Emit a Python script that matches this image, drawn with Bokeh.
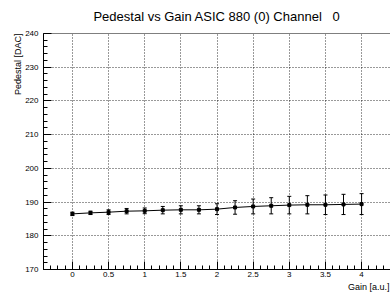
from bokeh.plotting import figure
from bokeh.models import (ColumnDataSource, SingleIntervalTicker, Range1d, Whisker,
                          TeeHead, Span, CustomJSTickFormatter, Title)
from bokeh.embed import file_html
from bokeh.resources import INLINE

gain = [0, 0.25, 0.5, 0.75, 1.0, 1.25, 1.5, 1.75, 2.0, 2.25, 2.5, 2.75, 3.0, 3.25, 3.5, 3.75, 4.0]
pedestal = [186.5, 186.8, 187.0, 187.3, 187.4, 187.6, 187.7, 187.7, 187.9, 188.4,
            188.7, 188.9, 189.1, 189.2, 189.2, 189.3, 189.4]
ped_err = [0.5, 0.5, 0.7, 0.8, 0.85, 1.1, 1.2, 1.2, 1.6, 2.0, 2.2, 2.4, 2.6, 2.7, 2.9, 3.0, 3.1]

title_text = "Pedestal vs Gain ASIC 880 (0) Channel\u00a0\u00a0\u00a00"
x_title = "Gain [a.u.]"
y_title = "Pedestal [DAC]"

FONT = "Liberation Sans"

src = ColumnDataSource(dict(
    x=gain, y=pedestal,
    lo=[v - e for v, e in zip(pedestal, ped_err)],
    hi=[v + e for v, e in zip(pedestal, ped_err)],
))

p = figure(width=390, height=295, output_backend="svg", toolbar_location=None,
           x_range=Range1d(-0.4, 4.4), y_range=Range1d(170, 240),
           min_border_left=43, min_border_right=0, min_border_top=33, min_border_bottom=26)
p.outline_line_color = None
p.background_fill_color = "white"
p.border_fill_color = "white"

p.title.text = title_text
p.title.align = "center"
p.title.vertical_align = "top"
p.title.text_font = FONT
p.title.text_font_size = "13px"
p.title.text_font_style = "normal"
p.title.text_color = "black"
p.title.standoff = 15
p.title.offset = 0

for ax, interval in ((p.xaxis[0], 0.5), (p.yaxis[0], 10)):
    ax.ticker = SingleIntervalTicker(interval=interval, num_minor_ticks=5)
    ax.major_tick_in = 8
    ax.major_tick_out = 0
    ax.minor_tick_in = 4
    ax.minor_tick_out = 0
    ax.axis_line_color = "black"
    ax.major_tick_line_color = "black"
    ax.minor_tick_line_color = "black"
    ax.major_label_text_font = FONT
    ax.major_label_text_font_size = "8px"
    ax.major_label_text_color = "black"
    ax.formatter = CustomJSTickFormatter(code="return tick.toString()")

p.xaxis[0].major_label_standoff = 2
p.yaxis[0].major_label_standoff = 5

p.add_layout(Title(text=x_title, align="right", offset=1, standoff=0,
                   text_font=FONT, text_font_size="9px", text_font_style="normal",
                   text_color="black"), "below")
p.add_layout(Title(text=y_title, align="right", offset=0, standoff=-1,
                   text_font=FONT, text_font_size="9px", text_font_style="normal",
                   text_color="black"), "left")

for g in (p.xgrid[0], p.ygrid[0]):
    g.grid_line_color = "black"
    g.grid_line_dash = "1 2"
    g.grid_line_width = 1
    g.grid_line_alpha = 0.8

p.add_layout(Span(location=240, dimension="width", line_color="black", line_width=1))

p.line("x", "y", source=src, line_color="black", line_width=1)
p.add_layout(Whisker(source=src, base="x", lower="lo", upper="hi",
                     line_color="black", line_width=1,
                     lower_head=TeeHead(size=4, line_color="black", line_width=1),
                     upper_head=TeeHead(size=4, line_color="black", line_width=1)))
p.scatter("x", "y", source=src, marker="square", size=3, color="black")

open("out.html", "w").write(file_html(p, INLINE))
